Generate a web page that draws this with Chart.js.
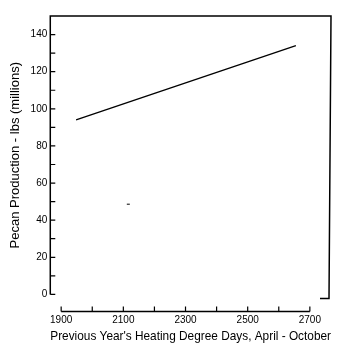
<!DOCTYPE html>
<html lang="en">
  <head>
    <meta charset="UTF-8" />
    <title>Pecan Production</title>
    <script src="https://cdn.jsdelivr.net/npm/chart.js"></script>
    <style>
      body {
        margin: 0;
        padding: 0;
        background: #fff;
      }
      #wrap {
        width: 354px;
        height: 361px;
      }
    </style>
  </head>
  <body>
    <div id="wrap"><canvas id="pecanChart"></canvas></div>
    <script>
      // tick values
      const xTickValues = [1900, 2000, 2100, 2200, 2300, 2400, 2500, 2600, 2700];
      const xTickLabels = ["1900", "", "2100", "", "2300", "", "2500", "", "2700"];
      const yTickValues = [0, 10, 20, 30, 40, 50, 60, 70, 80, 90, 100, 110, 120, 130, 140];
      const yTickLabels = ["0", "", "20", "", "40", "", "60", "", "80", "", "100", "", "120", "", "140"];

      // regression line end points
      const lineX = [1948, 2655];
      const lineY = [94, 134];

      // little stray dash in the plot
      const dashX = [2116];
      const dashY = [48.6];

      const FONT = "'Liberation Sans', sans-serif";

      // frame, inside ticks and the detached x axis
      const framePlugin = {
        id: "frame",
        afterDraw(chart) {
          const ctx = chart.ctx;
          const a = chart.chartArea;
          const xs = chart.scales.x;
          const ys = chart.scales.y;
          ctx.save();
          ctx.strokeStyle = "#000";
          ctx.lineWidth = 1.5;
          ctx.beginPath();
          ctx.moveTo(a.left, a.bottom);
          ctx.lineTo(a.left, a.top);
          ctx.lineTo(a.right, a.top);
          ctx.lineTo(a.right - 2, a.bottom + 4);
          ctx.lineTo(a.right - 11, a.bottom + 4);
          ctx.stroke();

          // y ticks pointing in
          ctx.lineWidth = 1.2;
          ctx.beginPath();
          yTickValues.forEach((v) => {
            const y = ys.getPixelForValue(v);
            ctx.moveTo(a.left, y);
            ctx.lineTo(a.left + 5, y);
          });
          ctx.stroke();

          // x axis below the box
          const y0 = a.bottom + 17;
          ctx.lineWidth = 1.5;
          ctx.beginPath();
          ctx.moveTo(xs.getPixelForValue(xTickValues[0]), y0);
          ctx.lineTo(xs.getPixelForValue(xTickValues[xTickValues.length - 1]), y0);
          ctx.stroke();
          ctx.lineWidth = 1.2;
          ctx.beginPath();
          xTickValues.forEach((v) => {
            const x = xs.getPixelForValue(v);
            ctx.moveTo(x, y0);
            ctx.lineTo(x, y0 - 5);
          });
          ctx.stroke();
          ctx.restore();
        },
      };

      const ctx = document.getElementById("pecanChart").getContext("2d");
      new Chart(ctx, {
        type: "scatter",
        data: {
          datasets: [
            {
              data: lineX.map((x, i) => ({ x: x, y: lineY[i] })),
              showLine: true,
              borderColor: "#000",
              borderWidth: 1.3,
              pointRadius: 0,
            },
            {
              data: dashX.map((x, i) => ({ x: x, y: dashY[i] })),
              pointStyle: "line",
              pointRadius: 1.5,
              borderColor: "#000",
              borderWidth: 1,
            },
          ],
        },
        options: {
          responsive: true,
          maintainAspectRatio: false,
          animation: false,
          devicePixelRatio: 1,
          layout: {
            padding: { left: 8, top: 16, right: 23, bottom: 17 },
          },
          plugins: {
            legend: { display: false },
            tooltip: { enabled: false },
          },
          scales: {
            x: {
              type: "linear",
              min: 1865,
              max: 2768,
              afterBuildTicks: (s) => {
                s.ticks = xTickValues.map((v) => ({ value: v }));
              },
              grid: { display: false, drawTicks: false },
              border: { display: false },
              ticks: {
                autoSkip: false,
                maxRotation: 0,
                padding: 20,
                color: "#000",
                font: { family: FONT, size: 10 },
                callback: (v, i) => xTickLabels[i],
              },
              title: {
                display: true,
                text: "Previous Year's Heating Degree Days, April - October",
                color: "#000",
                font: { family: FONT, size: 13 },
                padding: { top: -18, bottom: 0 },
              },
            },
            y: {
              min: 0,
              max: 150,
              afterBuildTicks: (s) => {
                s.ticks = yTickValues.map((v) => ({ value: v }));
              },
              grid: { display: false, drawTicks: false },
              border: { display: false },
              ticks: {
                autoSkip: false,
                padding: 3,
                color: "#000",
                font: { family: FONT, size: 10 },
                callback: (v, i) => yTickLabels[i],
              },
              title: {
                display: true,
                text: "Pecan Production - lbs (millions)",
                color: "#000",
                font: { family: FONT, size: 13 },
                padding: { top: 0, bottom: 4 },
              },
            },
          },
        },
        plugins: [framePlugin],
      });
    </script>
  </body>
</html>
